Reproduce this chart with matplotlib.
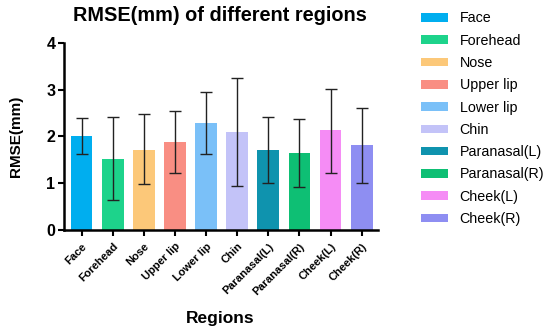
import matplotlib
matplotlib.use("Agg")
import matplotlib.pyplot as plt
from matplotlib.patches import Patch

plt.rcParams['font.family'] = ['Liberation Sans', 'DejaVu Sans']

categories = ["Face", "Forehead", "Nose", "Upper lip", "Lower lip", "Chin",
              "Paranasal(L)", "Paranasal(R)", "Cheek(L)", "Cheek(R)"]
means = [2.01, 1.52, 1.72, 1.88, 2.29, 2.10, 1.72, 1.64, 2.13, 1.82]
err_low = [1.62, 0.64, 0.98, 1.21, 1.62, 0.95, 1.00, 0.92, 1.22, 1.01]
err_high = [2.39, 2.41, 2.48, 2.54, 2.95, 3.25, 2.42, 2.37, 3.02, 2.61]
colors = ["#00AEEF", "#1DD38B", "#FCC879", "#F98E83", "#7AC0F8", "#C3C3F8",
          "#0F93AE", "#0EBF74", "#F58CF5", "#8E8EF2"]
yticks = [0, 1, 2, 3, 4]

fig = plt.figure(figsize=(5.5, 3.34), dpi=100)
ax = fig.add_axes([0.116, 0.311, 0.571, 0.561])

x = list(range(len(categories)))
yerr = [[m - l for m, l in zip(means, err_low)], [h - m for m, h in zip(means, err_high)]]
ax.bar(x, means, width=0.7, color=colors, zorder=2)
ax.errorbar(x, means, yerr=yerr, fmt='none', ecolor='#222222', elinewidth=1.0,
            capsize=4, capthick=1.0, zorder=3)

ax.set_xlim(-0.57, 9.52)
ax.set_ylim(0, 4)
ax.set_yticks(yticks)
ax.set_yticklabels([str(t) for t in yticks], fontsize=11.5, fontweight='bold')
ax.set_xticks(x)
ax.set_xticklabels(categories, rotation=45, ha='right', rotation_mode='anchor',
                   fontsize=8, fontweight='bold')
for s in ['top', 'right']:
    ax.spines[s].set_visible(False)
for s in ['left', 'bottom']:
    ax.spines[s].set_linewidth(1.8)
ax.tick_params(axis='both', width=1.5, length=4, direction='out', pad=2)
ax.tick_params(axis='x', pad=4)

ax.set_ylabel("RMSE(mm)", fontsize=11, fontweight='bold', labelpad=17)
fig.text(0.4, 0.955, "RMSE(mm) of different regions", ha='center', va='center',
         fontsize=14.3, fontweight='bold')
fig.text(0.4, 0.045, "Regions", ha='center', va='center', fontsize=12.5, fontweight='bold')

handles = [Patch(facecolor=c, label=l) for c, l in zip(colors, categories)]
fig.legend(handles=handles, loc='upper left', bbox_to_anchor=(0.755, 0.983),
           frameon=False, fontsize=10.3, handlelength=1.9, handleheight=0.55,
           labelspacing=0.58, handletextpad=0.8, borderaxespad=0)

fig.savefig("out.png", dpi=100)
